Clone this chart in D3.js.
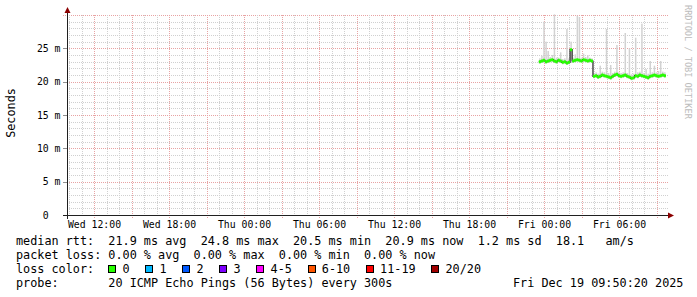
<!DOCTYPE html>
<html>
<head>
<meta charset="utf-8">
<script src="https://cdn.jsdelivr.net/npm/d3@7"></script>
<style>
body { margin: 0; background: #fff; }
svg { display: block; }
text { font-family: "DejaVu Sans Mono", monospace; white-space: pre; }
</style>
</head>
<body>
<svg width="697" height="297"></svg>
<script>
// data: one entry every 10 minutes, starting Thu Dec 18 23:35 (UTC)
var dataStart = Date.UTC(2025, 11, 18, 23, 35);
var stepMinutes = 10;

var medianRtt = [
    23.0, 23.1, 23.2, 23.0, 23.1, 23.2, 23.3, 23.1, 23.0, 23.2,
    23.1, 22.9, 23.0, 22.8, 22.9, 24.8, 23.1, 23.2, 23.3, 23.2,
    23.1, 23.3, 23.2, 23.1, 23.2, 23.1,
    20.8, 20.9, 20.7, 20.8, 21.0, 20.9, 20.8, 20.7, 20.6, 20.8,
    21.0, 21.1, 20.9, 20.8, 20.9, 21.0, 20.8, 20.7, 20.5, 20.6,
    20.9, 20.8, 21.0, 20.9, 20.8, 20.7, 20.6, 20.8, 20.9, 21.0,
    20.9, 20.8, 20.9, 21.0, 20.9
];
var smokeMax = [
    23.5, 23.9, 29.0, 26.0, 24.6, 23.7, 24.0, 30.1, 23.6, 23.6,
    24.4, 23.4, 23.5, 27.9, 23.5, 26.0, 23.6, 24.1, 29.9, 29.7,
    23.6, 24.2, 23.7, 24.0, 23.6, 23.5,
    21.3, 21.4, 21.2, 22.4, 21.5, 21.4, 27.9, 21.3, 22.5, 21.3,
    21.5, 25.5, 21.4, 21.3, 21.4, 27.3, 21.3, 25.0, 21.1, 21.2,
    26.6, 21.4, 21.5, 28.7, 21.3, 21.9, 21.2, 23.1, 21.4, 22.4,
    21.4, 21.6, 23.1, 21.5, 21.4
];
var smokeMin = [
    22.7, 22.8, 22.9, 22.7, 22.8, 22.9, 23.0, 22.8, 22.7, 22.9,
    22.8, 22.6, 22.7, 22.5, 22.6, 23.0, 22.8, 22.9, 23.0, 22.9,
    22.8, 23.0, 22.9, 22.8, 22.9, 22.8,
    20.5, 20.6, 20.4, 20.5, 20.7, 20.6, 20.5, 20.4, 20.3, 20.5,
    20.7, 20.8, 20.6, 20.5, 20.6, 20.7, 20.5, 20.4, 20.2, 20.3,
    20.6, 20.5, 20.7, 20.6, 20.5, 20.4, 20.3, 20.5, 20.6, 20.7,
    20.6, 20.5, 20.6, 20.7, 20.6
];
var lossNow = 0;

var lossLabels = ['0', '1', '2', '3', '4-5', '6-10', '11-19', '20/20'];
var lossColors = ['#26ff00', '#00b8ff', '#0059ff', '#7e00ff', '#ff00ff', '#ff5500', '#ff0000', '#a10000'];

var rttValues = ['21.9', '24.8', '20.5', '20.9'];
var lossValues = ['0.00', '0.00', '0.00', '0.00'];
var statNames = ['avg', 'max', 'min', 'now'];
var rttSd = '1.2', rttAm = '18.1';
var probeText = '20 ICMP Echo Pings (56 Bytes) every 300s';
var stampText = 'Fri Dec 19 09:50:20 2025';

var yTicks = [0, 5, 10, 15, 20, 25];
var yTickLabels = ['0  ', '5 m', '10 m', '15 m', '20 m', '25 m'];

let plotLeft = 67, plotTop = 15, plotWidth = 600, plotHeight = 200;
let charW = 7.1;

var svg = d3.select('svg');
svg.append('rect').attr('width', 697).attr('height', 297).attr('fill', '#fff');

var x = d3.scaleUtc()
    .domain([new Date(Date.UTC(2025, 11, 17, 9, 50, 20)), new Date(Date.UTC(2025, 11, 19, 9, 50, 20))])
    .range([plotLeft, plotLeft + plotWidth]);
var y = d3.scaleLinear()
    .domain([0, 30])
    .range([plotTop + plotHeight, plotTop]);

var grid = svg.append('g').attr('shape-rendering', 'crispEdges');

// horizontal grid
d3.range(1, 31).forEach(function(v) {
    var major = v % 5 == 0;
    grid.append('line')
        .attr('x1', major ? plotLeft - 4 : plotLeft).attr('x2', plotLeft + plotWidth + 2)
        .attr('y1', Math.round(y(v)) + 0.5).attr('y2', Math.round(y(v)) + 0.5)
        .attr('stroke', major ? '#e8a3a3' : '#d0d0d0')
        .attr('stroke-dasharray', '1,1');
});

// vertical grid
x.ticks(d3.utcHour.every(1)).forEach(function(t) {
    var major = t.getUTCHours() % 3 == 0;
    var px = Math.round(x(t)) + 0.5;
    if (px <= plotLeft + 1) return;
    grid.append('line')
        .attr('x1', px).attr('x2', px)
        .attr('y1', plotTop).attr('y2', major ? plotTop + plotHeight + 3 : plotTop + plotHeight)
        .attr('stroke', major ? '#e8a3a3' : '#d0d0d0')
        .attr('stroke-dasharray', '1,1');
});

// major tick marks on the y axis
yTicks.forEach(function(v) {
    grid.append('line')
        .attr('x1', plotLeft - 4).attr('x2', plotLeft)
        .attr('y1', Math.round(y(v)) + 0.5).attr('y2', Math.round(y(v)) + 0.5)
        .attr('stroke', '#909090');
});

// y labels
svg.selectAll('.ylab')
    .data(yTicks)
    .enter()
    .append('text')
    .attr('class', 'ylab')
    .attr('x', 60.5)
    .attr('y', d => y(d) + 3.5)
    .attr('text-anchor', 'end')
    .attr('font-size', '9.8px')
    .attr('fill', '#000')
    .text((d, i) => yTickLabels[i]);

// x labels
var fmt = d3.utcFormat('%a %H:%M');
svg.selectAll('.xlab')
    .data(x.ticks(d3.utcHour.every(6)))
    .enter()
    .append('text')
    .attr('class', 'xlab')
    .attr('x', d => x(d) + 0.5)
    .attr('y', 228)
    .attr('text-anchor', 'middle')
    .attr('font-size', '9.8px')
    .attr('fill', '#000')
    .text(d => fmt(d));

// rows for the data
var rows = medianRtt.map(function(m, i) {
    return { t: new Date(dataStart + i * stepMinutes * 60000), median: m, max: smokeMax[i], min: smokeMin[i] };
});
var last = rows[rows.length - 1];
var stepPx = x(new Date(dataStart + stepMinutes * 60000)) - x(new Date(dataStart));

// smoke: thin grey bars from lowest to highest ping
svg.selectAll('.smoke')
    .data(rows)
    .enter()
    .append('rect')
    .attr('class', 'smoke')
    .attr('x', d => x(d.t) + 0.3)
    .attr('width', 1.5)
    .attr('y', d => y(d.max))
    .attr('height', d => y(d.min) - y(d.max))
    .attr('fill', '#d2d2d2');

var stepRows = rows.concat([{ t: new Date(last.t.getTime() + stepMinutes * 60000), median: last.median }]);

var medianLine = d3.line()
    .x(d => x(d.t))
    .y(d => y(d.median))
    .curve(d3.curveStepAfter);
svg.append('path')
    .datum(stepRows)
    .attr('d', medianLine)
    .attr('fill', 'none')
    .attr('stroke', '#202020')
    .attr('stroke-width', 1.2);

var medianBand = d3.area()
    .x(d => x(d.t))
    .y0(d => y(d.median) + 1.5)
    .y1(d => y(d.median) - 1.5)
    .curve(d3.curveStepAfter);
svg.append('path')
    .datum(stepRows)
    .attr('d', medianBand)
    .attr('fill', lossColors[lossNow]);

// axes
var axis = svg.append('g');
axis.append('line')
    .attr('x1', plotLeft + 0.5).attr('x2', plotLeft + 0.5)
    .attr('y1', plotTop + plotHeight + 4).attr('y2', plotTop - 3)
    .attr('stroke', '#202020');
axis.append('line')
    .attr('x1', plotLeft - 4).attr('x2', plotLeft + plotWidth + 2)
    .attr('y1', plotTop + plotHeight + 0.5).attr('y2', plotTop + plotHeight + 0.5)
    .attr('stroke', '#202020');
axis.append('path')
    .attr('d', `M${plotLeft - 2.5},${plotTop - 2} L${plotLeft + 3.5},${plotTop - 2} L${plotLeft + 0.5},${plotTop - 8} Z`)
    .attr('fill', '#8b0000');
axis.append('path')
    .attr('d', `M${plotLeft + plotWidth + 1},${plotTop + plotHeight - 2.5} L${plotLeft + plotWidth + 1},${plotTop + plotHeight + 3.5} L${plotLeft + plotWidth + 7},${plotTop + plotHeight + 0.5} Z`)
    .attr('fill', '#8b0000');

// titles
svg.append('text')
    .attr('transform', 'translate(14.5,113) rotate(-90)')
    .attr('text-anchor', 'middle')
    .attr('font-size', '11.8px')
    .text('Seconds');
svg.append('text')
    .attr('transform', 'translate(685,5) rotate(90)')
    .attr('font-size', '8.6px')
    .attr('fill', '#bcbcbc')
    .text('RRDTOOL / TOBI OETIKER');

// legend
var legendX = 16;
var line1 = 'median rtt:  ' + rttValues.map((v, i) => v + ' ms ' + statNames[i]).join('  ')
    + '  ' + rttSd + ' ms sd  ' + rttAm + '   am/s';
var line2 = 'packet loss: ' + lossValues.map((v, i) => v + ' % ' + statNames[i]).join('  ');
var lines = [line1, line2, 'loss color:', 'probe:       ' + probeText];
lines.forEach(function(s, i) {
    svg.append('text')
        .attr('x', legendX)
        .attr('y', 245 + i * 14)
        .attr('font-size', '11.8px')
        .text(s);
});
svg.append('text')
    .attr('x', 513)
    .attr('y', 287)
    .attr('font-size', '11.8px')
    .text(stampText);

var bx = legendX + 13 * charW;
lossLabels.forEach(function(lab, i) {
    svg.append('rect')
        .attr('x', Math.round(bx) + 0.5).attr('y', 265.5)
        .attr('width', 7).attr('height', 7)
        .attr('fill', lossColors[i])
        .attr('stroke', '#000');
    var lx = bx + 14.3;
    svg.append('text')
        .attr('x', lx)
        .attr('y', 273)
        .attr('font-size', '11.8px')
        .text(lab);
    bx = lx + lab.length * charW + 15.6;
});
</script>
</body>
</html>
